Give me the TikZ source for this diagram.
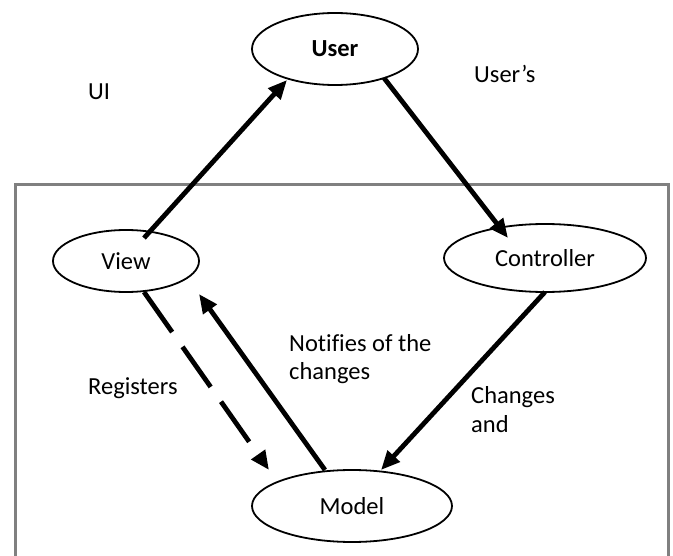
\documentclass[tikz,border=0pt]{standalone}
\usepackage{fontspec}
\setmainfont[Ligatures={NoCommon}]{Carlito}
\usetikzlibrary{shapes.geometric,arrows.meta,calc}
\begin{document}
\begin{tikzpicture}[x=1pt,y=-1pt,
  every node/.style={font=\fontsize{24.5}{29}\selectfont},
  oval/.style={ellipse,draw=black,line width=1.8pt,inner sep=0pt,fill=white},
  arr/.style={line width=4.8pt,-{Triangle[length=19pt,width=16pt]}},
  lbl/.style={anchor=base west,inner sep=0pt}]
\useasboundingbox (0,0) rectangle (673,556);
\clip (0,0) rectangle (673,556);
\fill[white] (0,0) rectangle (673,556);
\draw[draw={rgb,255:red,128;green,128;blue,128},line width=3pt] (15,185) rectangle (668,600);
\node[oval,minimum width=166pt,minimum height=72pt] (user) at (335,49) {\textbf{User}};
\node[oval,minimum width=146pt,minimum height=62pt] (view) at (126,261) {View};
\node[oval,minimum width=202pt,minimum height=68pt] (ctrl) at (545,258) {Controller};
\node[oval,minimum width=200pt,minimum height=72pt] (model) at (352,506) {Model};
\node[lbl] (ui) at (88,100) {UI};
\node[lbl] (users) at (474,83) {User’s};
\node[lbl] (not1) at (289,352) {Notifies of the};
\node[lbl] (not2) at (289,380) {changes};
\node[lbl] (reg) at (88,395) {Registers};
\node[lbl] (chg1) at (471,403) {Changes};
\node[lbl] (chg2) at (471,432) {and};
\draw[arr] ($(view.center)+(18,-23)$) -- ($(user.center)+(-48,31)$);
\draw[arr] ($(user.center)+(49,29)$) -- ($(ctrl.center)+(-37,-20)$);
\draw[arr] ($(ctrl.center)+(0,34)$) -- ($(model.center)+(29,-36)$);
\draw[arr] ($(model.center)+(-27,-36)$) -- ($(view.center)+(73,33)$);
\draw[arr,dash pattern=on 49pt off 18pt] ($(view.center)+(18,31)$) -- ($(model.center)+(-83,-36)$);
\end{tikzpicture}
\end{document}
